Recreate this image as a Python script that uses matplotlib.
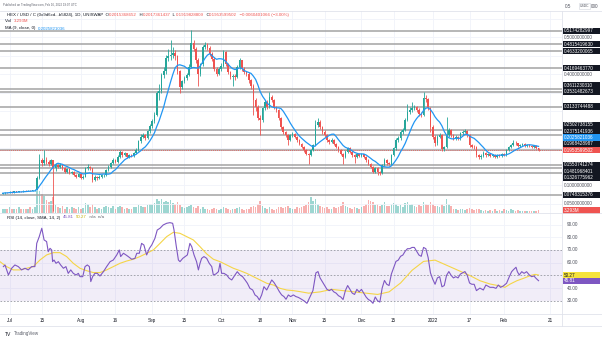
import numpy as np
import pandas as pd
import matplotlib
matplotlib.use('Agg')
import matplotlib.pyplot as plt
import matplotlib.dates as mdates
from matplotlib.patches import Rectangle
from matplotlib.lines import Line2D

plt.rcParams['font.family'] = ['Liberation Sans', 'DejaVu Sans']

W, H = 602, 337

# ---------------- data ----------------
start_date = '2021-06-28'
first_open = 0.078
closes = [
    0.079, 0.081, 0.080, 0.083, 0.082, 0.084, 0.083, 0.085, 0.084, 0.086,
    0.085, 0.086, 0.085, 0.087, 0.088, 0.120, 0.168, 0.160, 0.170, 0.164,
    0.159, 0.168, 0.146, 0.155, 0.151, 0.155, 0.146, 0.137, 0.144, 0.133,
    0.137, 0.128, 0.124, 0.130, 0.121, 0.124, 0.146, 0.151, 0.146, 0.115,
    0.124, 0.119, 0.124, 0.127, 0.128, 0.142, 0.151, 0.160, 0.169, 0.164,
    0.178, 0.190, 0.182, 0.187, 0.178, 0.182, 0.180, 0.187, 0.196, 0.219,
    0.232, 0.237, 0.228, 0.246, 0.260, 0.273, 0.291, 0.349, 0.354, 0.399,
    0.408, 0.444, 0.449, 0.453, 0.458, 0.449, 0.408, 0.367, 0.381, 0.390,
    0.399, 0.421, 0.484, 0.470, 0.440, 0.400, 0.427, 0.475, 0.480, 0.472,
    0.455, 0.442, 0.415, 0.402, 0.415, 0.424, 0.461, 0.428, 0.406, 0.393,
    0.397, 0.393, 0.420, 0.438, 0.415, 0.406, 0.402, 0.384, 0.370, 0.330,
    0.312, 0.281, 0.276, 0.308, 0.326, 0.312, 0.339, 0.330, 0.312, 0.303,
    0.281, 0.258, 0.244, 0.236, 0.222, 0.236, 0.240, 0.231, 0.222, 0.213,
    0.204, 0.195, 0.186, 0.182, 0.195, 0.209, 0.263, 0.272, 0.258, 0.245,
    0.236, 0.222, 0.218, 0.222, 0.213, 0.204, 0.195, 0.186, 0.177, 0.191,
    0.200, 0.191, 0.182, 0.177, 0.184, 0.180, 0.184, 0.177, 0.168, 0.159,
    0.150, 0.137, 0.146, 0.137, 0.133, 0.155, 0.169, 0.160, 0.158, 0.182,
    0.200, 0.223, 0.227, 0.245, 0.250, 0.277, 0.299, 0.304, 0.309, 0.313,
    0.304, 0.293, 0.290, 0.335, 0.333, 0.309, 0.259, 0.232, 0.214, 0.232,
    0.236, 0.198, 0.203, 0.236, 0.250, 0.236, 0.227, 0.232, 0.227, 0.241,
    0.245, 0.248, 0.236, 0.209, 0.205, 0.203, 0.182, 0.176, 0.180, 0.188,
    0.182, 0.184, 0.180, 0.182, 0.177, 0.182, 0.180, 0.185, 0.182, 0.196,
    0.203, 0.209, 0.216, 0.214, 0.207, 0.209, 0.212, 0.207, 0.209, 0.207,
    0.203, 0.207, 0.2015, 0.19536,
]
highs = [
    .081, .082, .082, .084, .084, .085, .085, .086, .086, .087,
    .087, .088, .087, .088, .090, .125, .185, .175, .196, .176,
    .168, .172, .170, .160, .158, .160, .157, .149, .147, .146,
    .140, .139, .131, .133, .132, .127, .150, .158, .153, .148,
    .127, .126, .127, .130, .131, .145, .154, .163, .173, .172,
    .182, .195, .193, .191, .189, .186, .185, .190, .200, .224,
    .238, .243, .240, .250, .266, .279, .298, .356, .375, .405,
    .420, .452, .470, .494, .475, .465, .452, .412, .386, .395,
    .404, .428, .520, .492, .474, .445, .432, .480, .488, .485,
    .476, .460, .446, .420, .420, .430, .466, .464, .432, .410,
    .402, .400, .425, .445, .440, .420, .410, .406, .388, .374,
    .336, .318, .290, .312, .332, .330, .352, .344, .334, .316,
    .306, .285, .262, .248, .240, .240, .245, .243, .234, .226,
    .216, .207, .198, .189, .198, .213, .276, .282, .276, .262,
    .249, .240, .226, .227, .225, .216, .207, .198, .189, .195,
    .205, .203, .194, .185, .188, .187, .188, .186, .180, .171,
    .162, .153, .150, .149, .140, .158, .173, .171, .164, .186,
    .204, .228, .233, .250, .256, .282, .320, .312, .325, .318,
    .316, .308, .298, .353, .345, .336, .312, .263, .236, .236,
    .242, .239, .208, .286, .256, .253, .240, .236, .235, .245,
    .249, .252, .251, .239, .213, .209, .206, .186, .184, .192,
    .190, .188, .186, .185, .184, .185, .184, .188, .187, .199,
    .207, .213, .222, .219, .216, .212, .215, .214, .212, .211,
    .209, .209, .209, .2017,
]
lows = [
    .077, .078, .079, .079, .081, .081, .082, .082, .083, .083,
    .084, .084, .084, .084, .086, .087, .118, .152, .156, .158,
    .152, .155, .030, .140, .146, .147, .142, .134, .134, .130,
    .130, .125, .121, .122, .118, .118, .122, .143, .142, .110,
    .113, .116, .117, .121, .124, .126, .139, .148, .157, .160,
    .162, .175, .178, .179, .175, .175, .176, .178, .185, .194,
    .215, .228, .224, .225, .243, .256, .270, .288, .330, .350,
    .390, .400, .435, .440, .445, .440, .400, .350, .360, .376,
    .385, .395, .418, .462, .432, .370, .396, .424, .468, .466,
    .450, .436, .410, .396, .398, .410, .420, .424, .400, .388,
    .370, .386, .390, .416, .410, .402, .396, .378, .362, .290,
    .300, .276, .236, .272, .304, .306, .310, .325, .306, .298,
    .276, .252, .238, .230, .209, .219, .232, .227, .218, .209,
    .200, .191, .182, .159, .179, .192, .206, .258, .252, .240,
    .230, .217, .212, .214, .209, .200, .191, .182, .159, .174,
    .188, .187, .178, .160, .174, .176, .177, .173, .164, .155,
    .146, .133, .134, .128, .129, .131, .152, .156, .154, .156,
    .179, .197, .218, .224, .240, .247, .273, .292, .298, .303,
    .298, .287, .284, .287, .325, .303, .245, .226, .208, .210,
    .228, .194, .194, .200, .232, .231, .222, .223, .223, .224,
    .237, .241, .232, .205, .200, .198, .177, .171, .172, .177,
    .178, .179, .176, .177, .173, .175, .176, .178, .179, .180,
    .194, .201, .206, .210, .204, .204, .206, .204, .205, .204,
    .200, .201, .199, .1920,
]
volumes_m = [
    5, 6, 5, 8, 6, 5, 6, 8, 5, 6,
    5, 6, 8, 6, 9, 34, 35, 30, 26, 20,
    16, 18, 24, 12, 9, 7, 10, 6, 8, 5,
    9, 7, 6, 8, 5, 7, 15, 14, 9, 13,
    8, 6, 7, 5, 8, 10, 9, 7, 10, 6,
    9, 11, 8, 6, 7, 5, 6, 8, 9, 12,
    10, 8, 9, 12, 14, 13, 15, 22, 18, 21,
    17, 19, 16, 20, 15, 14, 16, 12, 9, 7,
    8, 10, 12, 9, 7, 10, 6, 8, 5, 6,
    4, 5, 7, 5, 4, 6, 8, 7, 5, 4,
    6, 5, 7, 8, 6, 4, 5, 6, 8, 11,
    9, 13, 19, 10, 7, 6, 9, 5, 4, 6,
    8, 9, 7, 8, 10, 7, 5, 6, 8, 7,
    9, 10, 12, 16, 24, 18, 22, 14, 10, 8,
    7, 9, 6, 5, 8, 7, 9, 11, 16, 10,
    8, 7, 6, 9, 7, 6, 8, 10, 14, 20,
    18, 16, 12, 14, 10, 12, 16, 11, 10, 13,
    15, 14, 10, 12, 9, 15, 17, 12, 14, 10,
    9, 12, 11, 17, 13, 12, 16, 13, 11, 10,
    9, 14, 11, 22, 13, 10, 6, 5, 4, 6,
    5, 4, 5, 7, 5, 4, 6, 5, 4, 3,
    4, 3, 4, 3, 5, 3, 4, 3, 5, 4,
    3, 5, 4, 3, 4, 3, 2, 3, 2, 3,
    2, 3, 2, 3.293,
]

level_prices = [0.5174282997, 0.4815419630, 0.4633200065, 0.4169463770,
                0.3611230310, 0.3531482673, 0.3133744488, 0.2502738155,
                0.2375141936, 0.1968428987, 0.1553741274, 0.1481968401,
                0.1326775962, 0.0748315376]
last_price = 0.1953599502
ma_last = 0.2025821036
vol_last = 3.293

# RSI: days after 2021-07-01 and values
rsi_base = '2021-07-01'
rsi_days = [-2.7, -2.0, -0.5, 0.9, 2.3, 3.8, 5.2, 6.7, 8.1, 9.6, 11.0, 11.8, 12.9, 14.0,
            15.0, 16.1, 16.8, 17.6, 18.3, 18.7, 19.3, 20.2, 21.2, 22.2, 23.4, 24.5, 25.5,
            26.6, 27.7, 28.9, 29.9, 30.6, 31.8, 32.8, 33.8, 34.7, 35.3, 36.1, 37.1, 38.1,
            39.3, 40.8, 42.2, 43.7, 45.1, 46.6, 47.7, 48.3, 49.5, 50.6, 51.6, 53.1, 54.5,
            55.3, 56.4, 57.4, 58.4, 59.6, 60.8, 61.8, 63.2, 64.2, 65.4, 66.8, 68.3, 69.7,
            70.9, 71.5, 72.4, 73.4, 74.1, 75.3, 76.3, 77.3, 78.4, 79.2, 80.2, 81.3, 82.1,
            82.8, 83.5, 84.5, 85.7, 86.8, 87.9, 88.6, 89.7, 90.8, 91.5, 92.2, 93.2, 94.4,
            95.5, 96.6, 98.0, 99.0, 100.2, 101.3, 102.4, 103.4, 104.5, 105.7, 106.7, 107.7,
            108.6, 109.6, 110.6, 111.8, 112.9, 114.0, 115.0, 116.1, 117.3, 118.3, 119.3,
            120.2, 121.2, 122.2, 123.4, 124.5, 125.5, 126.3, 128, 129.3, 130.6, 131.9,
            133.2, 134.1, 135, 136, 137, 138, 139, 140, 141, 142, 143, 144, 145, 146, 147,
            148, 149, 150, 151, 152, 153, 154, 155, 156, 157, 158, 159, 160, 161, 162, 163,
            164, 165, 166, 167, 168, 169, 170, 171, 172, 173, 174, 175, 176, 177, 178, 179,
            180, 181, 182, 183, 184, 185, 186, 187, 188, 189, 190, 191, 192, 193, 194, 195,
            196, 197, 198, 199, 200, 201, 202, 203, 204.5, 206, 207.1, 208.9, 210.3, 211.5,
            212.5, 213.5, 214.7, 216.1, 217.3, 218.3, 219.0, 220.2, 220.8, 221.6, 222.7,
            223.7, 224.8, 226, 227, 228, 228.9, 230]
rsi_vals = [56.9, 58.2, 50.3, 55.6, 58.2, 56.9, 54.3, 55.6, 54.3, 56.9, 56.9, 75.2, 80.5, 87.1,
            77.9, 76.6, 68.7, 71.3, 70.0, 60.8, 62.1, 59.5, 60.8, 58.2, 55.6, 56.9, 51.6,
            54.3, 51.6, 50.3, 51.6, 49.0, 49.0, 56.9, 58.2, 56.9, 45.1, 49.0, 51.6, 51.6,
            49.5, 52.9, 56.9, 60.8, 62.1, 66.1, 70.0, 64.8, 67.4, 66.1, 64.8, 62.7, 63.4,
            67.4, 67.4, 75.2, 73.9, 66.1, 71.3, 73.9, 79.2, 85.7, 87.1, 89.7, 91.0, 91.5,
            91.0, 85.7, 73.9, 62.1, 60.8, 63.4, 64.8, 66.1, 75.2, 72.6, 66.1, 60.8, 54.3,
            59.5, 63.4, 64.8, 63.4, 59.5, 56.9, 50.3, 51.1, 52.9, 59.5, 51.6, 51.6, 50.3,
            47.7, 46.4, 50.3, 52.9, 50.3, 49.0, 46.4, 43.8, 39.8, 38.5, 34.6, 33.3,
            30.6, 34.6, 41.1, 38.5, 42.4, 46.4, 44.3, 41.1, 37.2, 34.6, 33.3,
            31.2, 34.6, 33.3, 34.6, 33.3, 32.7, 31.9, 30, 28, 33, 38,
            52, 53, 48, 45, 42, 39, 38, 39, 37, 36, 34, 33, 31, 38, 42,
            39, 36, 35, 39, 37, 39, 36, 33, 31, 30, 28, 33, 30, 29, 40, 46,
            43, 42, 51, 56, 61, 62, 65, 66, 69, 71, 71, 72, 72, 69, 66, 65,
            72, 71, 64, 52, 47, 43, 48, 49, 41, 42, 50, 53, 50, 48, 49, 48,
            51, 52, 53, 50, 44, 43, 43, 38, 40, 38.5, 42.4, 40.6, 40.6, 39.8,
            42.4, 40.6, 41.7, 43.8, 49.0, 52.9, 54.3, 56.4, 52.9, 50.3, 52.9,
            51.6, 52.9, 50.3, 49.0, 49.5, 47.7, 45.81]
sma_days = [-4.2, -1.3, 1.6, 4.5, 7.4, 10.3, 13.2, 16.1, 19.0, 21.9, 24.8, 27.7, 30.6, 33.5,
            36.4, 39.3, 42.2, 45.1, 48.0, 50.9, 53.8, 56.7, 59.6, 62.5, 65.4, 68.3, 71.2,
            74.1, 77.0, 79.9, 82.8, 85.7, 88.6, 91.5, 94.4, 97.3, 100.2, 103.1, 106.0,
            108.9, 111.8, 114.7, 117.6, 120.5, 123.4, 126.3, 130, 135, 140, 145, 150, 155,
            160, 165, 170, 175, 180, 185, 190, 195, 200, 204.5, 208.9, 213.2, 215.4,
            217.7, 220.6, 223.5, 226.4, 228.5, 230]
sma_vals = [60.8, 56.9, 54.3, 54.3, 55.6, 56.9, 62.1, 66.1, 67.9, 67.9, 64.8, 59.5, 55.6, 53.7,
            52.2, 52.2, 54.3, 56.9, 59.5, 61.3, 62.7, 64.8, 67.4, 70.0, 75.2, 80.5, 83.9,
            83.1, 80.5, 77.9, 72.6, 66.9, 62.7, 60.8, 58.2, 55.6, 53.7, 51.6, 49.0,
            46.4, 43.8, 42.4, 39.8, 38.5, 38.0, 37.2, 36, 37, 39, 38, 37, 36,
            35, 37, 44, 54, 61, 62, 58, 54, 50, 45.8, 43.2, 41.7, 40.6,
            43.2, 45.8, 47.7, 49.8, 50.8, 50.27]
rsi_last, sma_last = 45.81, 50.27

tick_dates = ['2021-07-01', '2021-07-15', '2021-08-01', '2021-08-16', '2021-09-01',
              '2021-09-15', '2021-10-01', '2021-10-18', '2021-11-01', '2021-11-15',
              '2021-12-01', '2021-12-15', '2022-01-01', '2022-01-17', '2022-02-01',
              '2022-02-21']
tick_labels = ['Jul', '15', 'Aug', '16', 'Sep', '15', 'Oct', '18', 'Nov', '15',
               'Dec', '15', '2022', '17', 'Feb', '21']

# ---------------- figure ----------------
UP, DN = '#26a69a', '#ef5350'
fig = plt.figure(figsize=(W / 100, H / 100), dpi=100)
renderer = fig.canvas.get_renderer()


def frac(x0, y0, x1, y1):
    return [x0 / W, 1 - y1 / H, (x1 - x0) / W, (y1 - y0) / H]


axv = fig.add_axes(frac(0, 11, 562, 212.5))
ax = fig.add_axes(frac(0, 11, 562, 212.5))
axr = fig.add_axes(frac(0, 213, 562, 314))
ax.patch.set_visible(False)

dates = pd.date_range(start_date, periods=len(closes), freq='D')
x = mdates.date2num(dates)
base = mdates.date2num(pd.Timestamp(rsi_base))
xl = (base - 4.17, base + 240.2)
for a in (ax, axv, axr):
    a.set_xlim(*xl)
    for s in a.spines.values():
        s.set_visible(False)
    a.set_yticks([])
ax.set_ylim(0.027, 0.5714)
axv.set_ylim(0, 322)
axr.set_ylim(19.6, 99.1)

xt = mdates.date2num(pd.to_datetime(tick_dates))
for t in xt:
    axv.axvline(t, color='#f0f3fa', lw=0.6, zorder=0)
    axr.axvline(t, color='#f0f3fa', lw=0.6, zorder=0)
for p in np.arange(0.05, 0.56, 0.05):
    ax.axhline(p, color='#f0f3fa', lw=0.6, zorder=0)
for v in (40, 60, 80, 90):
    axr.axhline(v, color='#f0f3fa', lw=0.6, zorder=0)

# volume
o = np.array([first_open] + closes[:-1])
c = np.array(closes)
up = c >= o
cols = np.where(up, UP, DN)
axv.bar(x, volumes_m, width=0.72, color=cols, alpha=0.45, lw=0, zorder=1)
ax.set_xticks([])
axv.set_xticks([])

# level lines
for p in level_prices:
    ax.axhline(p, color='#a3a3a3', lw=1.1, zorder=2)
ax.axhline(last_price, color=DN, lw=0.6, ls=(0, (1, 1.5)), zorder=2.5)

# candles
ax.vlines(x, lows, highs, colors=cols, lw=0.6, zorder=3)
body_lo = np.minimum(o, c)
body_h = np.maximum(np.abs(c - o), 0.0009)
ax.bar(x, body_h, bottom=body_lo, width=0.72, color=cols, lw=0, zorder=4)

# MA(9)
ma = pd.Series(closes).rolling(9, min_periods=1).mean()
ax.plot(x, ma, color='#2196f3', lw=0.9, zorder=5)

# RSI pane
axr.axhspan(30, 70, color='#7e57c2', alpha=0.1, lw=0)
for v in (70, 50, 30):
    axr.axhline(v, color='#9598a1', lw=0.6, ls=(0, (2, 2)))
axr.plot(base + np.array(sma_days), sma_vals, color='#f5d547', lw=0.8, zorder=3)
axr.plot(base + np.array(rsi_days), rsi_vals, color='#7e57c2', lw=0.8, zorder=4)
axr.set_xticks(xt)
axr.set_xticklabels(tick_labels, fontsize=3.3, color='#131722')
axr.tick_params(axis='x', length=0, pad=3.2)

# ---------------- frame lines ----------------
def hline(y, x0=0, x1=W, color='#e0e3eb', lw=0.6):
    fig.add_artist(Line2D([x0 / W, x1 / W], [1 - y / H, 1 - y / H], color=color, lw=lw,
                          transform=fig.transFigure))


def vline(xp, y0, y1, color='#e0e3eb', lw=0.6):
    fig.add_artist(Line2D([xp / W, xp / W], [1 - y0 / H, 1 - y1 / H], color=color, lw=lw,
                          transform=fig.transFigure))


hline(11)
hline(212.8)
hline(314)
hline(326)
vline(562, 11, 326)
vline(601.5, 11, 326)

# ---------------- right scale labels ----------------
def px(axis, val):
    return H - axis.transData.transform((0, val))[1]


def box(yc, text, fc, tc):
    fig.add_artist(Rectangle((562.5 / W, 1 - (yc + 3.1) / H), 37.5 / W, 6.2 / H,
                             transform=fig.transFigure, facecolor=fc, edgecolor='none'))
    fig.text(564 / W, 1 - yc / H, text, fontsize=3.3, color=tc, va='center', ha='left')


items = [(px(ax, p), '%.10f' % p, '#131722', 'white', False) for p in level_prices]
items.append((px(ax, ma_last), '%.10f' % ma_last, '#2196f3', 'white', False))
items.append((px(ax, last_price), '%.10f' % last_price, DN, 'white', True))
items.sort(key=lambda t: t[0])
ys = [t[0] for t in items]
k = [i for i, t in enumerate(items) if t[4]][0]
gap = 6.3
for i in range(k - 1, -1, -1):
    ys[i] = min(ys[i], ys[i + 1] - gap)
for i in range(k + 1, len(items)):
    ys[i] = max(ys[i], ys[i - 1] + gap)
vy = px(axv, vol_last)
for yy, it in zip(ys, items):
    box(yy, it[1], it[2], it[3])
box(vy, '%.3fM' % vol_last, DN, 'white')
taken = ys + [vy]
for p in np.arange(0.05, 0.501, 0.05):
    yy = px(ax, p)
    if 13 < yy < 210 and all(abs(yy - t) > 5.5 for t in taken):
        fig.text(564 / W, 1 - yy / H, '%.10f' % p, fontsize=3.3, color='#50535e',
                 va='center', ha='left')

# RSI scale
ry = [px(axr, sma_last), px(axr, rsi_last)]
box(ry[0], '%.2f' % sma_last, '#f5e33b', '#131722')
box(ry[1], '%.2f' % rsi_last, '#7e57c2', 'white')
for v in (90, 80, 70, 60, 50, 40, 30):
    yy = px(axr, v)
    if all(abs(yy - t) > 5.5 for t in ry):
        fig.text(567 / W, 1 - yy / H, '%.2f' % v, fontsize=3.3, color='#50535e',
                 va='center', ha='left')

# USDC badge at top of the price scale (label partly hidden behind it)
fig.text(565 / W, 1 - 7 / H, '0.5', fontsize=3.3, color='#50535e', va='center')
fig.text(591 / W, 1 - 7 / H, '000', fontsize=3.3, color='#50535e', va='center')
fig.text(580 / W, 1 - 6 / H, 'USDC', fontsize=2.4, color='#50535e', va='center',
         bbox=dict(boxstyle='square,pad=0.2', fc='white', ec='#d1d4dc', lw=0.4))

# ---------------- header / legend texts ----------------
def seq(x0, y, parts, size):
    xx = x0
    for s, col in parts:
        t = fig.text(xx / W, 1 - y / H, s, fontsize=size, color=col, va='center', ha='left')
        xx += t.get_window_extent(renderer=renderer).width


def fit_size(s, width_px):
    t = fig.text(0, 0, s, fontsize=10)
    w = t.get_window_extent(renderer=renderer).width
    t.remove()
    return 10 * width_px / w


DARK, GREY = '#131722', '#5d606b'
s1 = 'Published on TradingView.com, Feb 16, 2022 19:07 UTC'
seq(3, 5, [(s1, GREY)], fit_size(s1, 74))

row2 = [('HEX / USD / C (0x9d6cd...b5824), 1D, UNISWAP', DARK), ('  O', DARK),
        ('0.2015368652', DN), ('  H', DARK), ('0.2017361437', DN), ('  L', DARK),
        ('0.1919828809', DN), ('  C', DARK), ('0.1953599502', DN),
        ('  \u22120.0060401066 (\u22123.00%)', DN)]
sz2 = fit_size(''.join(s for s, _ in row2), 286)
seq(7, 15, row2, sz2)
seq(5, 21.5, [('Vol  ', DARK), ('3.293M', DN)], sz2)
seq(5, 28.5, [('MA (9, close, 0)  ', DARK), ('0.2025821036', '#2196f3')], sz2)
seq(7, 217.5, [('RSI (14, close, SMA, 14, 2)  ', DARK), ('45.81', '#7e57c2'),
               ('  ', DARK), ('50.27', '#c9b400'), ('  n/a  n/a', GREY)], sz2)

# logo
seq(5, 334, [('TV', DARK)], 3.6)
seq(13.5, 334, [('TradingView', GREY)], fit_size('TradingView', 25))

fig.savefig('out.png', dpi=100, facecolor='white')
